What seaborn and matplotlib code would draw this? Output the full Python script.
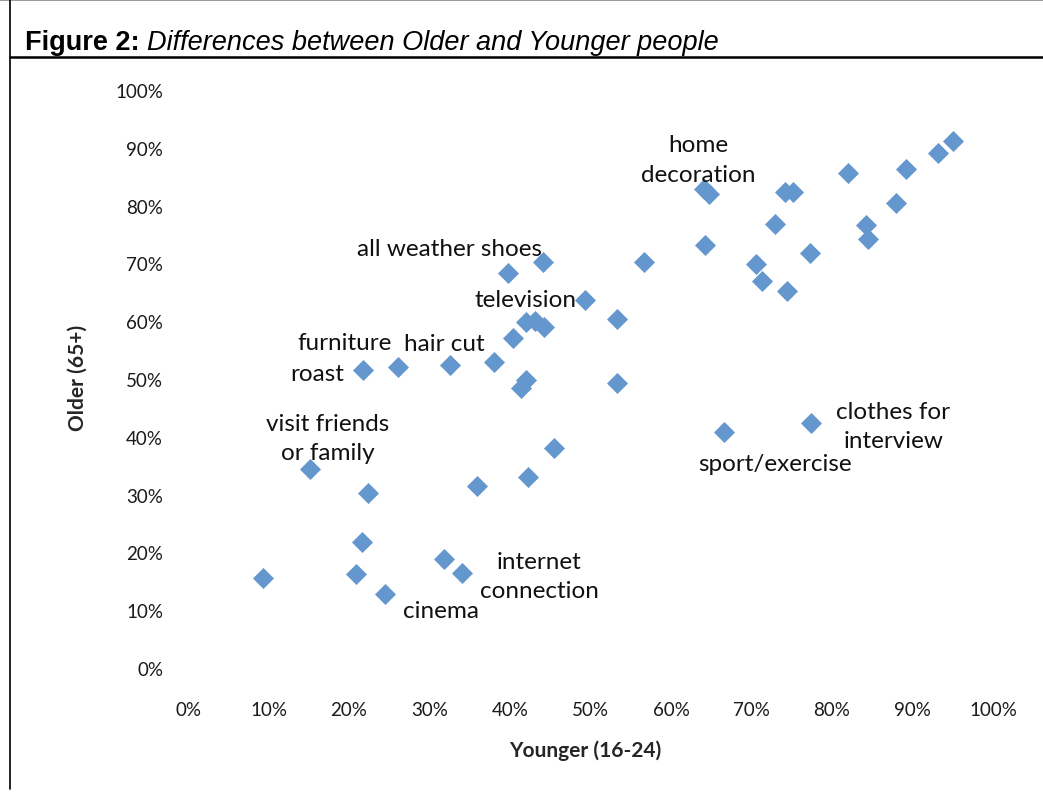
import matplotlib
matplotlib.use("Agg")
import matplotlib.pyplot as plt
from matplotlib.lines import Line2D
from matplotlib.ticker import PercentFormatter
import pandas as pd
import seaborn as sns

# share of each age group
younger = [0.093, 0.152, 0.209, 0.216, 0.217, 0.224, 0.245, 0.261, 0.325, 0.318,
           0.340, 0.359, 0.380, 0.398, 0.404, 0.414, 0.420, 0.422, 0.420, 0.431,
           0.442, 0.441, 0.455, 0.493, 0.533, 0.533, 0.566, 0.641, 0.647, 0.642,
           0.666, 0.706, 0.713, 0.729, 0.742, 0.752, 0.744, 0.773, 0.774, 0.820,
           0.842, 0.845, 0.879, 0.892, 0.932, 0.950]
older = [0.156, 0.344, 0.163, 0.218, 0.516, 0.303, 0.128, 0.521, 0.524, 0.189,
         0.164, 0.315, 0.529, 0.683, 0.571, 0.484, 0.498, 0.330, 0.599, 0.600,
         0.590, 0.702, 0.381, 0.637, 0.604, 0.493, 0.702, 0.829, 0.820, 0.732,
         0.408, 0.699, 0.670, 0.768, 0.824, 0.824, 0.652, 0.718, 0.424, 0.856,
         0.766, 0.742, 0.804, 0.863, 0.891, 0.912]

labels = ["home\ndecoration", "all weather shoes", "television", "furniture",
          "hair cut", "roast", "visit friends\nor family", "internet\nconnection",
          "cinema", "clothes for\ninterview", "sport/exercise"]
label_pos = [(0.634, 0.880), (0.325, 0.725), (0.419, 0.637), (0.195, 0.564),
             (0.319, 0.562), (0.161, 0.509), (0.174, 0.398), (0.436, 0.159),
             (0.314, 0.100), (0.876, 0.419), (0.729, 0.353)]

ticks = [i / 10 for i in range(11)]

df = pd.DataFrame({"Younger (16-24)": younger, "Older (65+)": older})

sns.set_style("white")
plt.rcParams["font.family"] = ["Lato", "DejaVu Sans"]

W, H = 1043, 803
fig = plt.figure(figsize=(W / 100, H / 100), dpi=100)
ax = fig.add_axes([188 / W, 1 - 669 / H, (993 - 188) / W, (669 - 91) / H])
ax.patch.set_alpha(0)

sns.scatterplot(data=df, x="Younger (16-24)", y="Older (65+)", ax=ax,
                marker="D", s=115, color="#6497CD", linewidth=0, clip_on=False)

ax.set_xlim(0, 1)
ax.set_ylim(0, 1)
ax.set_xticks(ticks)
ax.set_yticks(ticks)
ax.xaxis.set_major_formatter(PercentFormatter(1, decimals=0))
ax.yaxis.set_major_formatter(PercentFormatter(1, decimals=0))
ax.tick_params(axis="both", length=0, labelsize=13.5, colors="#1a1a1a")
ax.tick_params(axis="x", pad=24)
ax.tick_params(axis="y", pad=18)
for sp in ax.spines.values():
    sp.set_visible(False)
ax.grid(False)

ax.set_xlabel("Younger (16-24)", fontsize=15, fontweight="bold")
ax.set_ylabel("Older (65+)", fontsize=15, fontweight="bold")
ax.xaxis.set_label_coords((585 - 188) / 805, -(740 - 669) / 578)
ax.yaxis.set_label_coords(-(188 - 88) / 805, (669 - 378) / 578)

for txt, (lx, ly) in zip(labels, label_pos):
    ax.text(lx, ly, txt, fontsize=17.5, ha="center", va="center",
            linespacing=1.5, color="#111111")

# title and frame
title_font = ["Liberation Sans", "DejaVu Sans"]
t1 = fig.text(25 / W, 1 - 43 / H, "Figure 2: ", fontsize=19.5, fontweight="bold",
              family=title_font, va="center", color="black")
fig.canvas.draw()
bb = t1.get_window_extent()
fig.text(bb.x1 / W, 1 - 43 / H, "Differences between Older and Younger people",
         fontsize=19.5, style="italic", family=title_font, va="center", color="black")
fig.add_artist(Line2D([0, 1], [1 - 1 / H, 1 - 1 / H], color="#888888", lw=1.2))
fig.add_artist(Line2D([10 / W, 1], [1 - 58 / H, 1 - 58 / H], color="black", lw=1.8))
fig.add_artist(Line2D([10 / W, 10 / W], [1 - 1 / H, 1 - 790 / H], color="black", lw=1.2))

fig.savefig("out.png", dpi=100)
